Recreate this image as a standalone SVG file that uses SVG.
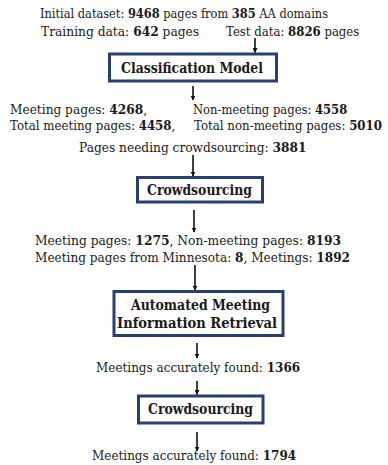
<svg xmlns="http://www.w3.org/2000/svg" width="388" height="465" viewBox="0 0 388 465">
<defs>
<style>
.t{font-family:"DejaVu Serif","Liberation Serif",serif;font-size:13px;fill:#1a1a1a}
.b{font-weight:bold}
.bt{font-family:"DejaVu Serif","Liberation Serif",serif;font-size:14px;font-weight:bold;fill:#1a1a1a}
.box{fill:#ffffff;stroke:#27406d;stroke-width:3}
.c{stroke:#111;stroke-width:1.6;fill:none}
</style>
<marker id="ah" viewBox="0 0 10 10" refX="9" refY="5" markerWidth="5" markerHeight="5" orient="auto" markerUnits="userSpaceOnUse">
<path d="M0,0 L10,5 L0,10 z" fill="#111"/>
</marker>
</defs>
<rect width="388" height="465" fill="#ffffff"/>

<g id="texts">
<text class="t" transform="translate(40,18) scale(0.878,1)">Initial dataset: <tspan class="b">9468</tspan> pages from <tspan class="b">385</tspan> AA domains</text>
<text class="t" transform="translate(41,36) scale(0.944,1)">Training data: <tspan class="b">642</tspan> pages</text>
<text class="t" transform="translate(226,36) scale(0.902,1)">Test data: <tspan class="b">8826</tspan> pages</text>
<text class="t" transform="translate(10,114) scale(0.937,1)">Meeting pages: <tspan class="b">4268</tspan>,</text>
<text class="t" transform="translate(193,114) scale(0.89,1)">Non-meeting pages: <tspan class="b">4558</tspan></text>
<text class="t" transform="translate(10,130) scale(0.907,1)">Total meeting pages: <tspan class="b">4458</tspan>,</text>
<text class="t" transform="translate(194,130) scale(0.909,1)">Total non-meeting pages: <tspan class="b">5010</tspan></text>
<text class="t" transform="translate(79,152) scale(0.939,1)">Pages needing crowdsourcing: <tspan class="b">3881</tspan></text>
<text class="t" transform="translate(35,245) scale(0.946,1)">Meeting pages: <tspan class="b">1275</tspan>, Non-meeting pages: <tspan class="b">8193</tspan></text>
<text class="t" transform="translate(35,262) scale(0.932,1)">Meeting pages from Minnesota: <tspan class="b">8</tspan>, Meetings: <tspan class="b">1892</tspan></text>
<text class="t" transform="translate(96,372) scale(0.924,1)">Meetings accurately found: <tspan class="b">1366</tspan></text>
<text class="t" transform="translate(92,460) scale(0.924,1)">Meetings accurately found: <tspan class="b">1794</tspan></text>
</g>

<g id="node-classification">
<rect class="box" x="109.5" y="54" width="167" height="27"/>
<text class="bt" x="121" y="72.5" textLength="142" lengthAdjust="spacingAndGlyphs">Classification Model</text>
</g>

<g id="node-crowdsourcing-1">
<rect class="box" x="137.5" y="177.5" width="125" height="24.5"/>
<text class="bt" x="147" y="195" textLength="105" lengthAdjust="spacingAndGlyphs">Crowdsourcing</text>
</g>

<g id="node-automated">
<rect class="box" x="114" y="291.5" width="169" height="44"/>
<text class="bt" x="131" y="309.5" textLength="139" lengthAdjust="spacingAndGlyphs">Automated Meeting</text>
<text class="bt" x="117" y="327.5" textLength="160" lengthAdjust="spacingAndGlyphs">Information Retrieval</text>
</g>

<g id="node-crowdsourcing-2">
<rect class="box" x="138.5" y="396" width="124.5" height="27"/>
<text class="bt" x="148" y="414" textLength="105" lengthAdjust="spacingAndGlyphs">Crowdsourcing</text>
</g>

<g id="connectors">
<line class="c" x1="255" y1="38" x2="255" y2="52.5" marker-end="url(#ah)"/>
<line class="c" x1="193" y1="86" x2="193" y2="100" marker-end="url(#ah)"/>
<line class="c" x1="193" y1="155" x2="193" y2="176" marker-end="url(#ah)"/>
<line class="c" x1="194" y1="210" x2="194" y2="232" marker-end="url(#ah)"/>
<line class="c" x1="195" y1="265" x2="195" y2="290" marker-end="url(#ah)"/>
<line class="c" x1="197" y1="343" x2="197" y2="358" marker-end="url(#ah)"/>
<line class="c" x1="197" y1="381" x2="197" y2="394.5" marker-end="url(#ah)"/>
<line class="c" x1="197" y1="432" x2="197" y2="451" marker-end="url(#ah)"/>
</g>
</svg>
